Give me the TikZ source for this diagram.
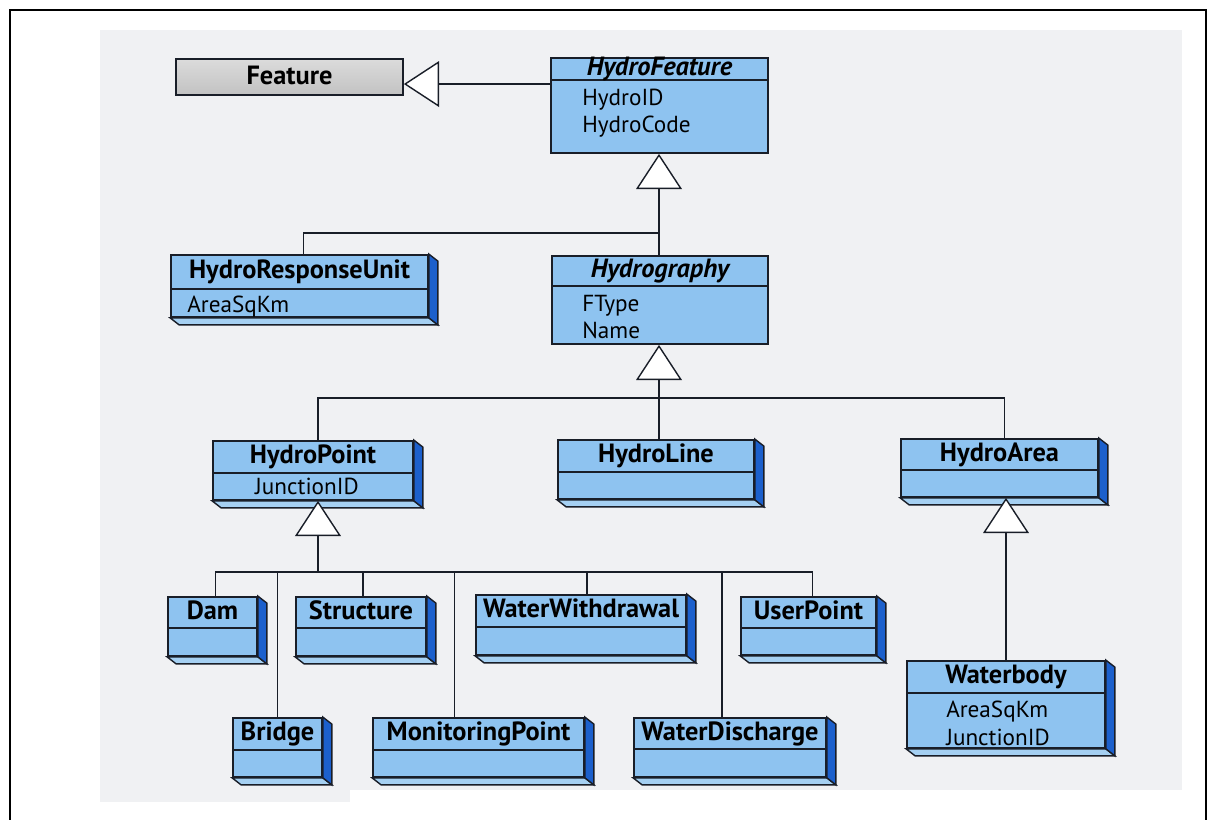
\documentclass[tikz,border=0pt]{standalone}
\usepackage{fontspec}
\setmainfont{PT Sans}
\usetikzlibrary{arrows.meta}
\usetikzlibrary{fit}

\definecolor{pagegray}{RGB}{240,241,243}
\definecolor{classblue}{RGB}{142,195,240}
\definecolor{classside}{RGB}{28,96,204}
\definecolor{classfloor}{RGB}{165,208,242}
\definecolor{classline}{RGB}{25,30,40}

\tikzset{
    classbody/.style={draw=classline, line width=1pt, fill=classblue, inner sep=0pt},
    classtitle/.style={font=\fontsize{15}{18}\selectfont\bfseries, inner sep=0pt,
        text height=10.5pt, text depth=2.5pt},
    classattr/.style={font=\fontsize{13.2}{15.5}\selectfont, align=left, inner sep=0pt},
    gen/.style={line width=0.8pt, draw=classline,
        -{Triangle[length=20pt,width=26pt,fill=white,line width=0.8pt]}},
    link/.style={line width=0.8pt, draw=classline},
}

% flat class box: name, top left, bottom right, header height, title
\newcommand{\classbox}[5]{%
    \coordinate (#1-nw) at #2;
    \coordinate (#1-se) at #3;
    \node[classbody, fit=(#1-nw)(#1-se)] (#1) {};
    \draw[classline, line width=1pt] ([shift={(0,#4)}]#1.north west) -- ([shift={(0,#4)}]#1.north east);
    \node[classtitle] (#1-title) at ([shift={(0,#4/2)}]#1.north) {#5};
}
% extruded edges of a class box
\newcommand{\classdepth}[1]{%
    \filldraw[fill=classfloor, draw=classline, line width=0.8pt] (#1.south west) -- ([shift={(9,7)}]#1.south west)
        -- ([shift={(9,7)}]#1.south east) -- (#1.south east) -- cycle;
    \filldraw[fill=classside, draw=classline, line width=0.8pt] (#1.north east) -- ([shift={(9,7)}]#1.north east)
        -- ([shift={(9,7)}]#1.south east) -- (#1.south east) -- cycle;
}

\begin{document}
\begin{tikzpicture}[x=0.02cm, y=-0.02cm]
    \useasboundingbox (0,0) rectangle (1215,820);

    % scanned page and frame
    \fill[pagegray] (100,30) rectangle (1182,790);
    \fill[pagegray] (100,790) rectangle (350,802);
    \draw[line width=1.6pt] (10,820) -- (10,10) -- (1206,10) -- (1206,820);

    % Feature
    \coordinate (ft-nw) at (176,59);
    \coordinate (ft-se) at (403,95);
    \node[fit=(ft-nw)(ft-se), inner sep=0pt, draw=classline, line width=1pt,
        top color=gray!28, bottom color=gray!48] (ft) {};
    \node[classtitle] (ft-title) at (ft) {Feature};

    % HydroFeature and Hydrography
    \classbox{hf}{(551,58)}{(768,153)}{23}{\itshape HydroFeature}
    \node[classattr, anchor=north west] (hf-attr) at ([shift={(31,31)}]hf-nw) {HydroID\\HydroCode};

    \classbox{hg}{(552,256)}{(768,344)}{31}{\itshape Hydrography}
    \node[classattr, anchor=north west] (hg-attr) at ([shift={(30,39)}]hg-nw) {FType\\Name};

    % HydroResponseUnit
    \classbox{hru}{(171,255)}{(428,317)}{35}{HydroResponseUnit}
    \classdepth{hru}
    \node[classattr, anchor=north west] (hru-attr) at ([shift={(16,41)}]hru-nw) {AreaSqKm};

    % second level
    \classbox{hp}{(213,441)}{(413,500)}{33}{HydroPoint}
    \classdepth{hp}
    \node[classattr] (hp-attr) at ([shift={(-6,46)}]hp.north) {JunctionID};

    \classbox{hl}{(558,440)}{(754,499)}{33}{HydroLine}
    \classdepth{hl}

    \classbox{ha}{(901,439)}{(1098,497)}{32}{HydroArea}
    \classdepth{ha}

    % HydroPoint subtypes
    \classbox{dam}{(168,597)}{(257,656)}{32}{Dam}
    \classdepth{dam}
    \classbox{st}{(296,597)}{(426,656)}{32}{Structure}
    \classdepth{st}
    \classbox{ww}{(476,595)}{(686,655)}{33}{WaterWithdrawal}
    \classdepth{ww}
    \classbox{up}{(741,597)}{(876,655)}{32}{UserPoint}
    \classdepth{up}
    \classbox{br}{(233,718)}{(322,777)}{33}{Bridge}
    \classdepth{br}
    \classbox{mp}{(373,718)}{(584,777)}{33}{MonitoringPoint}
    \classdepth{mp}
    \classbox{wd}{(634,718)}{(826,777)}{32}{WaterDischarge}
    \classdepth{wd}

    % Waterbody
    \classbox{wb}{(907,661)}{(1105,748)}{33}{Waterbody}
    \classdepth{wb}
    \node[classattr, anchor=north] (wb-attr) at ([shift={(-8,41)}]wb.north) {AreaSqKm\\JunctionID};

    % generalisation links
    \draw[gen] (hf.west |- ft-title.base) -- (ft.east |- ft-title.base);

    \coordinate (hf-j) at (659,233);
    \draw[gen] (hf-j) -- (hf-j |- hf.south);
    \draw[link] (hf-j) -- (hf-j |- hg.north);
    \draw[link] ([shift={(4,0)}]hru.north) |- (hf-j);

    \coordinate (hg-j) at (659,398);
    \draw[gen] (hg-j) -- (hg-j |- hg.south);
    \draw[link] ([shift={(5,0)}]hp.north) |- (hg-j);
    \draw[link] (hg-j) -- (hg-j |- hl.north);
    \draw[link] ([shift={(5,0)}]ha.north) |- (hg-j);

    \coordinate (hp-j) at (318,572);
    \draw[gen] (hp-j) -- (hp-j |- hp.south);
    \draw[link] ([shift={(3,0)}]dam.north) |- (hp-j);
    \draw[link] (br.north) |- (hp-j);
    \draw[link] ([shift={(2,0)}]st.north) |- (hp-j);
    \draw[link] ([shift={(-24,0)}]mp.north) |- (hp-j);
    \draw[link] ([shift={(6,0)}]ww.north) |- (hp-j);
    \draw[link] ([shift={(-8,0)}]wd.north) |- (hp-j);
    \draw[link] ([shift={(4,0)}]up.north) |- (hp-j);

    \draw[gen] (wb.north) -- (wb.north |- ha.south);
\end{tikzpicture}
\end{document}
